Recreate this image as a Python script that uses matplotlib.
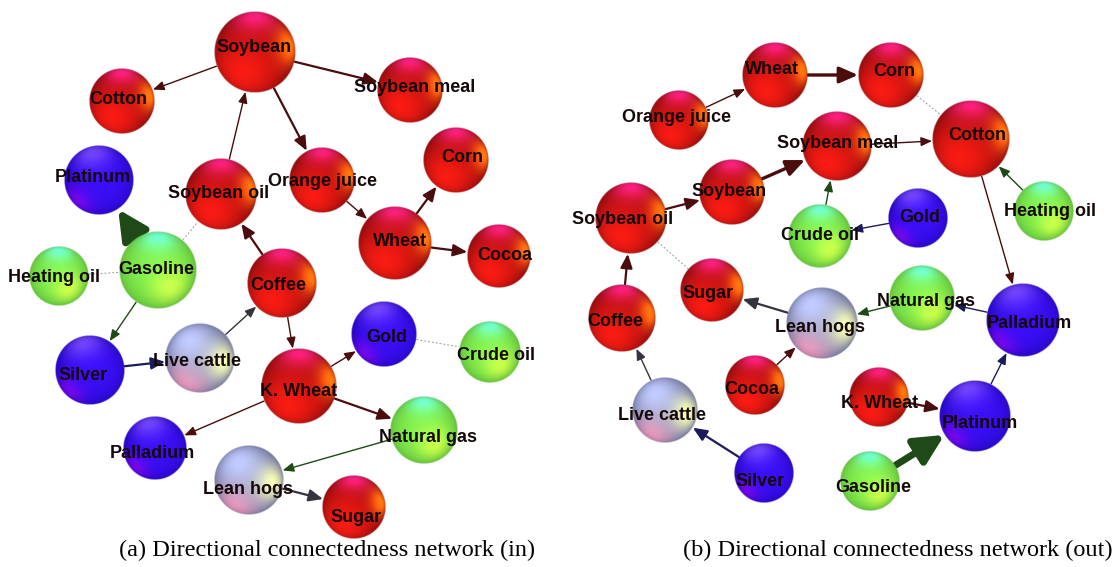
import numpy as np
import matplotlib
matplotlib.use("Agg")
import matplotlib.pyplot as plt
from matplotlib.patches import FancyArrowPatch, ArrowStyle

# ========== commodity groups ==========
AGRI = ["Soybean", "Cotton", "Soybean meal", "Soybean oil", "Orange juice", "Corn",
        "Wheat", "Cocoa", "Coffee", "K. Wheat", "Sugar"]
METALS = ["Platinum", "Gold", "Silver", "Palladium"]
ENERGY = ["Heating oil", "Gasoline", "Crude oil", "Natural gas"]
LIVESTOCK = ["Live cattle", "Lean hogs"]

# ========== directional links: (from, to, strength) ==========
# strength 0 = weak link, dotted, no head
edges_in = [
    ("Soybean", "Cotton", 1),
    ("Soybean", "Soybean meal", 2),
    ("Soybean", "Orange juice", 2),
    ("Soybean oil", "Soybean", 1),
    ("Gasoline", "Platinum", 5),
    ("Gasoline", "Soybean oil", 0),
    ("Heating oil", "Gasoline", 0),
    ("Orange juice", "Wheat", 1),
    ("Wheat", "Corn", 2),
    ("Wheat", "Cocoa", 2),
    ("Coffee", "Soybean oil", 2),
    ("Coffee", "K. Wheat", 1),
    ("Gasoline", "Silver", 1),
    ("Silver", "Live cattle", 2),
    ("Live cattle", "Coffee", 1),
    ("K. Wheat", "Gold", 1),
    ("Gold", "Crude oil", 0),
    ("K. Wheat", "Palladium", 1),
    ("K. Wheat", "Natural gas", 2),
    ("Natural gas", "Lean hogs", 1),
    ("Lean hogs", "Sugar", 2),
]

edges_out = [
    ("Orange juice", "Wheat", 1),
    ("Wheat", "Corn", 3),
    ("Corn", "Cotton", 0),
    ("Soybean meal", "Cotton", 1),
    ("Soybean", "Soybean meal", 3),
    ("Soybean oil", "Soybean", 2),
    ("Crude oil", "Soybean meal", 1),
    ("Gold", "Crude oil", 1),
    ("Heating oil", "Cotton", 1),
    ("Cotton", "Palladium", 1),
    ("Soybean oil", "Sugar", 0),
    ("Coffee", "Soybean oil", 2),
    ("Lean hogs", "Sugar", 2),
    ("Natural gas", "Lean hogs", 1),
    ("Palladium", "Natural gas", 1),
    ("Cocoa", "Lean hogs", 1),
    ("Live cattle", "Coffee", 1),
    ("Silver", "Live cattle", 2),
    ("K. Wheat", "Platinum", 2),
    ("Gasoline", "Platinum", 5),
    ("Platinum", "Palladium", 1),
]

# ========== layout (pixel space): x, y, radius, label dx, label dy ==========
layout_in = {
    "Soybean":      (255, 52, 41, -1, -4),
    "Cotton":       (122, 101, 33, -4, -2),
    "Soybean meal": (410, 90, 33, 5, -2),
    "Platinum":     (99, 180, 35, -6, -2),
    "Soybean oil":  (221, 194, 36, -2, 0),
    "Orange juice": (322, 180, 33, 1, 1),
    "Corn":         (456, 160, 33, 6, -3),
    "Wheat":        (395, 243, 37, 5, -2),
    "Cocoa":        (499, 256, 32, 6, 0),
    "Gasoline":     (158, 270, 39, -2, -1),
    "Heating oil":  (59, 276, 30, -5, 2),
    "Coffee":       (282, 283, 35, -4, 2),
    "Gold":         (384, 334, 33, 3, 3),
    "Crude oil":    (490, 352, 31, 6, 4),
    "Silver":       (90, 370, 35, -7, 5),
    "Live cattle":  (200, 358, 35, -3, 4),
    "K. Wheat":     (299, 386, 38, 0, 6),
    "Natural gas":  (424, 430, 34, 4, 8),
    "Palladium":    (155, 448, 32, -3, 6),
    "Lean hogs":    (249, 480, 35, -1, 9),
    "Sugar":        (354, 507, 32, 2, 10),
}

layout_out = {
    "Wheat":        (775, 75, 33, -3, -5),
    "Corn":         (891, 75, 33, 3, -4),
    "Orange juice": (679, 120, 30, -3, -2),
    "Soybean meal": (837, 146, 35, 1, -2),
    "Cotton":       (971, 139, 39, 6, -4),
    "Soybean":      (732, 192, 33, -3, 0),
    "Soybean oil":  (631, 218, 36, -8, 1),
    "Crude oil":    (820, 236, 32, 0, -1),
    "Gold":         (918, 218, 30, 2, 0),
    "Heating oil":  (1044, 211, 30, 6, 1),
    "Coffee":       (622, 318, 34, -7, 3),
    "Sugar":        (712, 290, 32, -4, 3),
    "Lean hogs":    (822, 323, 36, -2, 4),
    "Natural gas":  (922, 298, 33, 4, 3),
    "Palladium":    (1023, 320, 37, 6, 3),
    "Cocoa":        (755, 385, 30, -3, 4),
    "K. Wheat":     (879, 397, 30, 1, 6),
    "Live cattle":  (665, 410, 33, -3, 6),
    "Platinum":     (975, 416, 36, 5, 7),
    "Silver":       (764, 473, 30, -4, 8),
    "Gasoline":     (870, 481, 30, 3, 7),
}

captions = ["(a) Directional connectedness network (in)",
            "(b) Directional connectedness network (out)"]
caption_x = [327, 898]
caption_y = 550

W, H = 1119, 567

# sphere shading: base colour + (light direction, light colour, exponent)
SHADING = {
    "agri": ((0.64, 0.05, 0.06), [
        ((0.0, 0.9, 0.45), (0.4, 0.08, 0.5), 7),
        ((0.85, 0.15, 0.5), (0.5, 0.48, 0.0), 10),
        ((-0.4, -0.7, 0.6), (0.3, 0.05, 0.02), 2),
        ((0.0, 0.0, 1.0), (0.12, 0.02, 0.0), 1),
    ]),
    "metal": ((0.17, 0.02, 0.9), [
        ((-0.2, 0.8, 0.55), (0.28, 0.25, 0.12), 6),
        ((-0.6, -0.6, 0.5), (0.3, 0.0, 0.08), 9),
        ((0.3, 0.0, 1.0), (0.06, 0.04, 0.08), 1),
    ]),
    "energy": ((0.45, 0.88, 0.27), [
        ((0.0, 0.85, 0.5), (0.0, 0.2, 0.6), 8),
        ((0.35, -0.45, 0.8), (0.3, 0.1, 0.0), 7),
        ((0.0, 0.0, 1.0), (0.08, 0.08, 0.04), 1),
    ]),
    "livestock": ((0.52, 0.54, 0.72), [
        ((-0.35, 0.6, 0.7), (0.2, 0.22, 0.3), 4),
        ((0.7, -0.1, 0.7), (0.45, 0.45, 0.0), 7),
        ((-0.4, -0.75, 0.5), (0.4, 0.05, 0.05), 5),
        ((0.0, 0.0, 1.0), (0.1, 0.1, 0.05), 1),
    ]),
}

EDGE_COLOR = {"agri": "#4a0c0c", "metal": "#1b1b5c", "energy": "#1f4a18",
              "livestock": "#34343e"}


def group_of(name):
    if name in AGRI:
        return "agri"
    if name in METALS:
        return "metal"
    if name in ENERGY:
        return "energy"
    return "livestock"


def sphere_rgba(group, n=160):
    t = np.linspace(-1, 1, n)
    X, Y = np.meshgrid(t, -t)
    R2 = X ** 2 + Y ** 2
    Z = np.sqrt(np.clip(1 - R2, 0, None))
    base, lights = SHADING[group]
    rgb = np.ones((n, n, 3)) * np.array(base)
    for d, col, p in lights:
        d = np.array(d, float)
        d /= np.linalg.norm(d)
        lam = np.clip(X * d[0] + Y * d[1] + Z * d[2], 0, None) ** p
        rgb += lam[..., None] * np.array(col)
    # slight darkening at the rim
    rgb *= (0.8 + 0.2 * Z)[..., None]
    rgb = np.clip(rgb, 0, 1)
    alpha = np.clip((1 - np.sqrt(R2)) * n / 3.0, 0, 1)
    return np.dstack([rgb, alpha])


SPHERES = {g: sphere_rgba(g) for g in SHADING}


def arrow_style(strength):
    if strength >= 5:
        return 5.0, ArrowStyle("-|>", head_length=1.1, head_width=0.55), 16
    if strength == 3:
        return 2.4, ArrowStyle("-|>", head_length=0.8, head_width=0.35), 14
    if strength == 2:
        return 1.6, ArrowStyle("-|>", head_length=0.7, head_width=0.3), 12
    return 1.0, ArrowStyle("-|>", head_length=0.6, head_width=0.25), 11


def draw_network(ax, layout, edges):
    for src, dst, s in edges:
        x1, y1, r1 = layout[src][:3]
        x2, y2, r2 = layout[dst][:3]
        u = np.array([x2 - x1, y2 - y1], float)
        u /= np.hypot(*u)
        p1 = (x1 + u[0] * r1, y1 + u[1] * r1)
        p2 = (x2 - u[0] * r2, y2 - u[1] * r2)
        if s == 0:
            ax.plot([p1[0], p2[0]], [p1[1], p2[1]], ls=(0, (2, 2)), lw=0.7,
                    color="#9a9a9a", zorder=2)
            continue
        lw, style, ms = arrow_style(s)
        ax.add_patch(FancyArrowPatch(p1, p2, arrowstyle=style, mutation_scale=ms,
                                     lw=lw, color=EDGE_COLOR[group_of(src)],
                                     shrinkA=0, shrinkB=0, zorder=2))
    for name, (x, y, r, dx, dy) in layout.items():
        ax.imshow(SPHERES[group_of(name)], extent=(x - r, x + r, y + r, y - r),
                  interpolation="bilinear", zorder=3)
        ax.text(x + dx, y + dy, name, ha="center", va="center", fontsize=13,
                fontweight="bold", family=["Liberation Sans", "DejaVu Sans"],
                color="#140808", zorder=5)


fig = plt.figure(figsize=(W / 100, H / 100), dpi=100)
ax = fig.add_axes([0, 0, 1, 1])

draw_network(ax, layout_in, edges_in)
draw_network(ax, layout_out, edges_out)

for cx, cap in zip(caption_x, captions):
    ax.text(cx, caption_y, cap, ha="center", va="center", fontsize=17.5,
            family=["Liberation Serif", "DejaVu Serif"], color="black")

ax.set_xlim(0, W)
ax.set_ylim(H, 0)
ax.set_aspect("auto")
ax.axis("off")

fig.savefig("out.png", dpi=100)
